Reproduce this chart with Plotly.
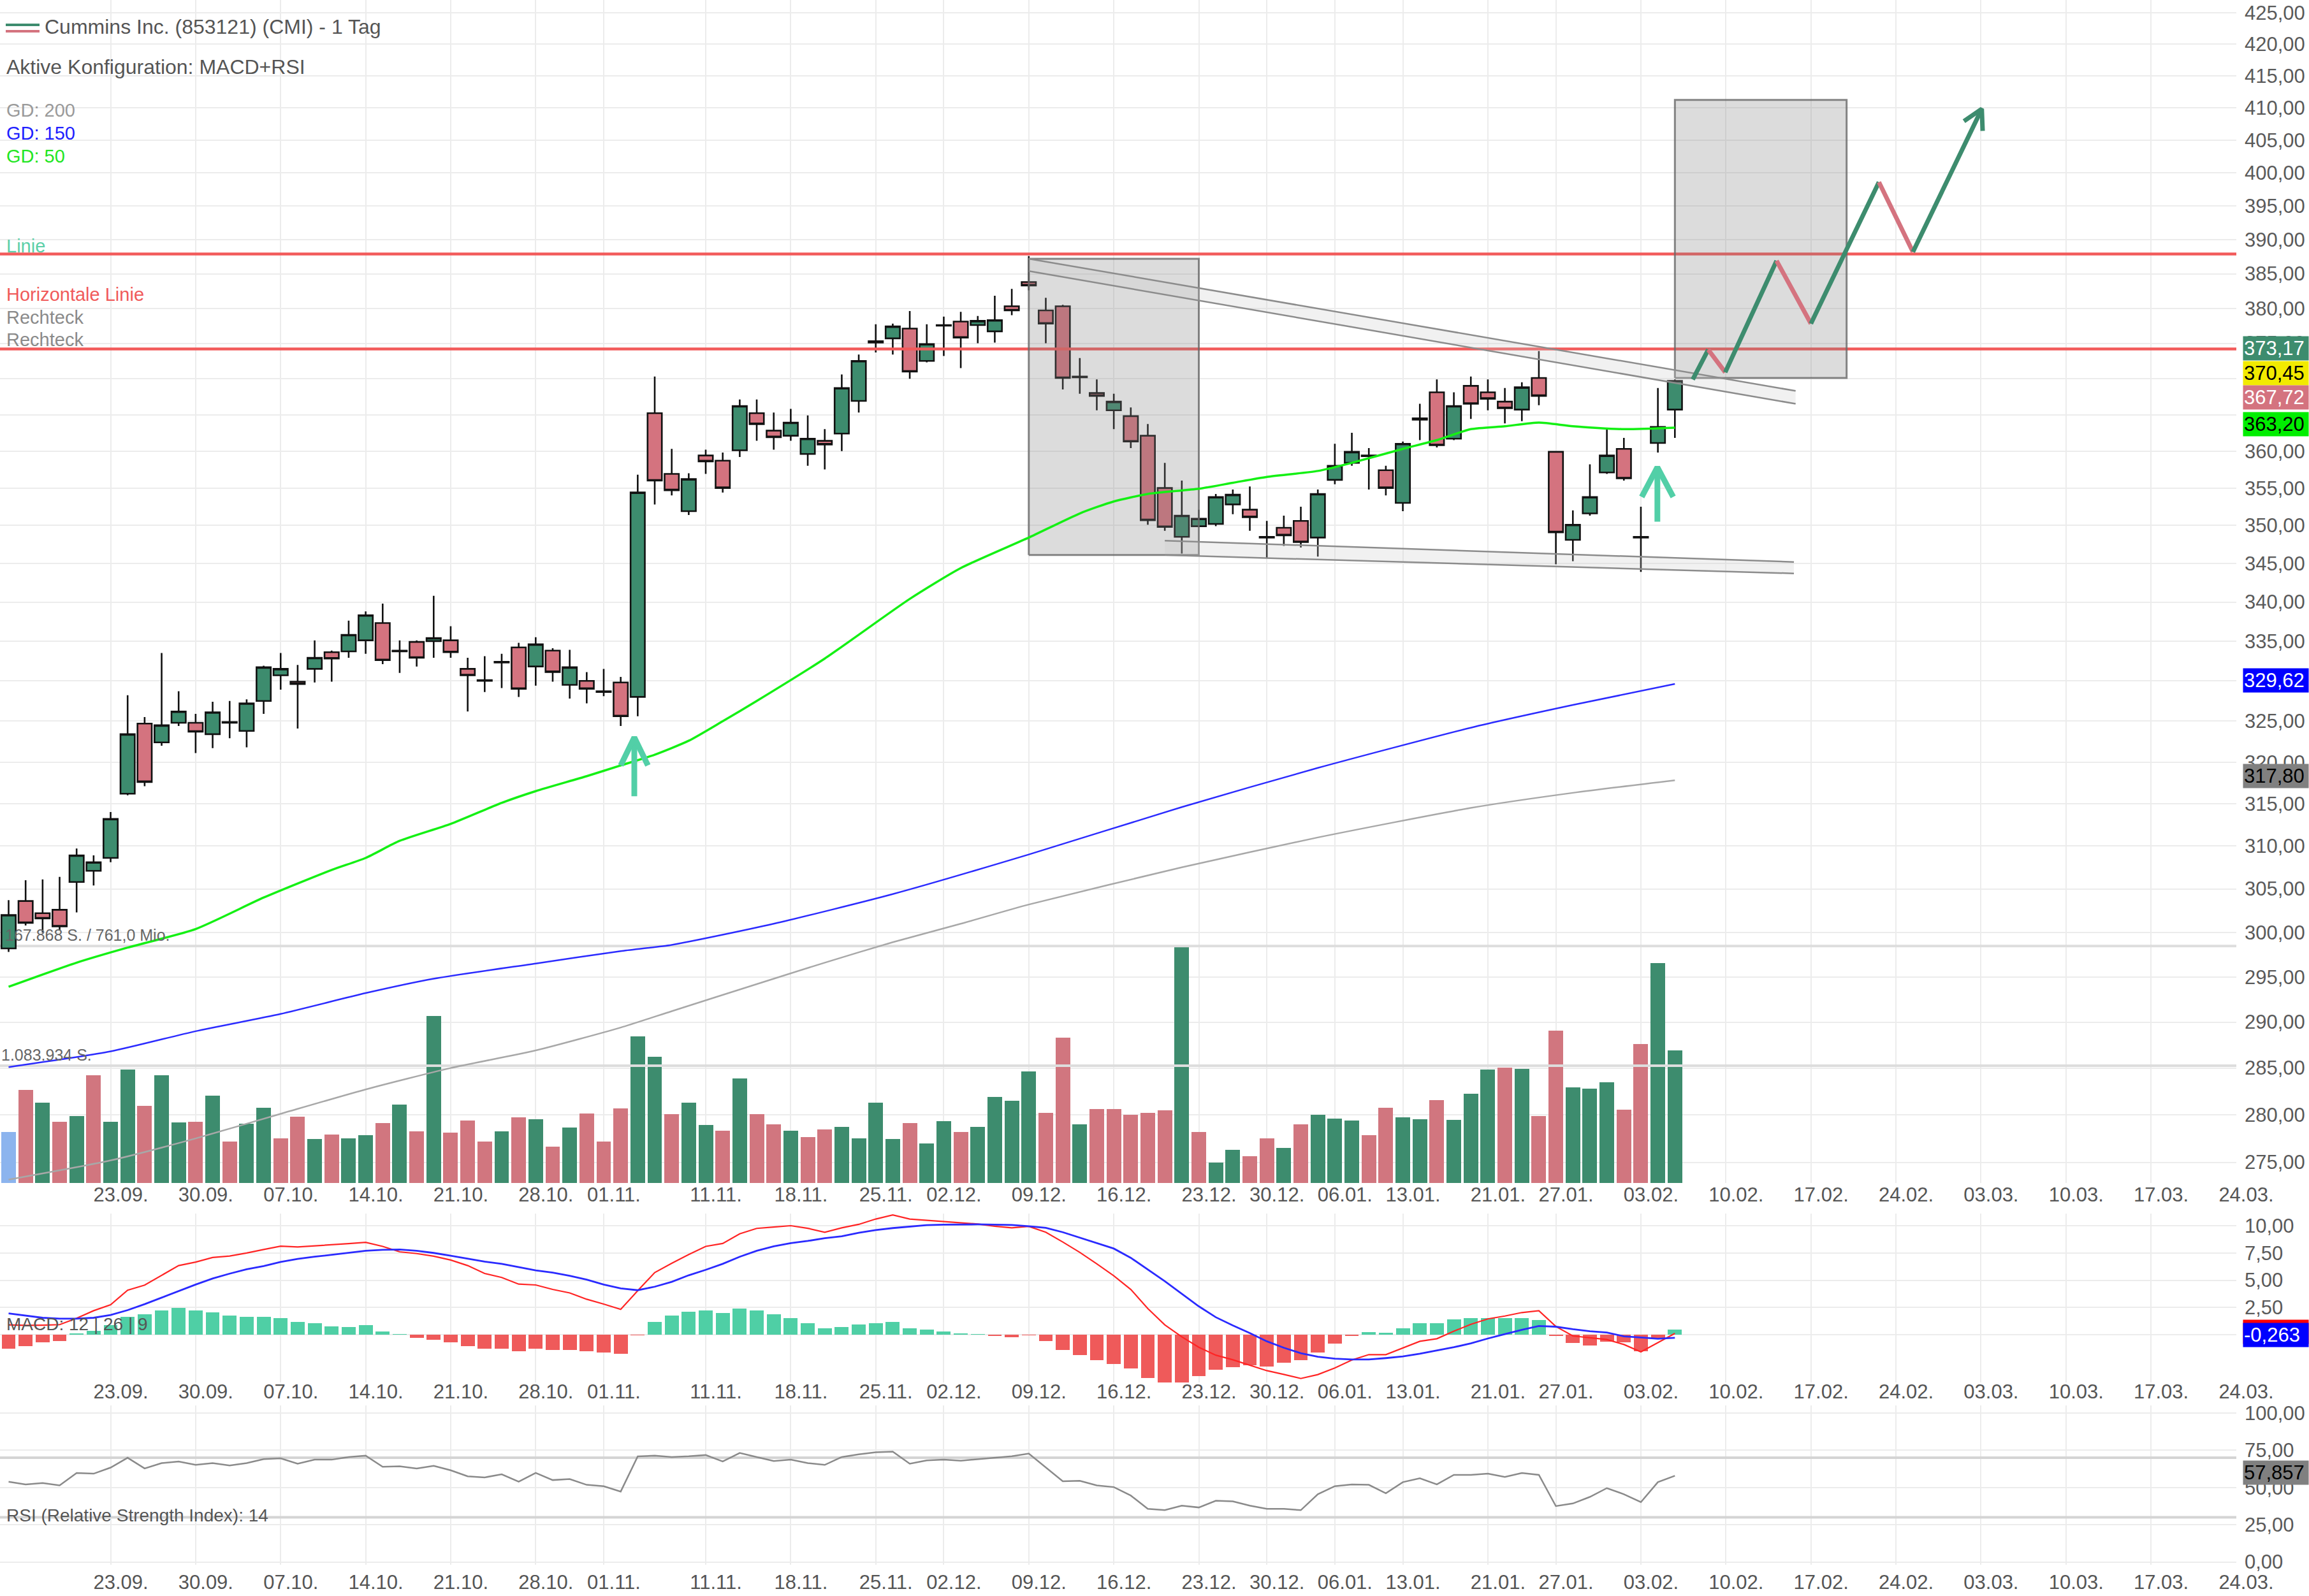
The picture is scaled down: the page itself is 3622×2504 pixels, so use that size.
import math
import plotly.graph_objects as go

# ---------------------------------------------------------------- data
# trading-day index: 0 = 13.09.2024 ... 98 = 05.02.2025
opens = [298.2, 303.6, 302.2, 302.6, 305.8, 307.1, 308.6, 316.2, 324.7, 322.4,
         324.8, 324.8, 323.4, 324.8, 323.8, 327.5, 330.7, 329.9, 331.5, 333.6,
         333.7, 335.1, 337.3, 333.7, 334.9, 335.0, 335.1, 331.5, 330.1, 332.3,
         334.2, 331.8, 333.8, 329.5, 330.0, 328.7, 329.8, 328.0, 365.2, 356.9,
         351.9, 359.4, 358.7, 360.1, 365.2, 362.8, 362.1, 359.6, 361.4, 362.4,
         366.9, 375.1, 375.7, 377.1, 372.5, 377.5, 378.1, 377.6, 376.7, 380.3,
         383.8, 379.7, 380.3, 370.2, 368.0, 365.6, 364.8, 362.1, 355.0, 348.5,
         349.9, 350.2, 352.8, 352.1, 348.4, 349.7, 350.6, 348.4, 356.1, 358.4,
         359.3, 357.4, 353.0, 364.3, 368.1, 361.7, 369.0, 368.1, 366.8, 365.7,
         370.1, 359.9, 348.1, 351.6, 357.1, 360.3, 348.4, 361.1, 365.7]
highs = [303.7, 306.0, 306.1, 306.4, 309.7, 308.9, 314.0, 328.2, 325.5, 333.5,
         328.7, 325.9, 327.4, 327.5, 327.7, 331.9, 333.5, 332.0, 335.1, 333.8,
         337.6, 338.8, 339.8, 335.1, 335.1, 340.8, 336.9, 332.9, 333.1, 333.4,
         334.8, 335.5, 334.1, 333.9, 331.1, 331.5, 330.5, 356.8, 370.3, 360.3,
         357.0, 360.2, 359.8, 367.1, 367.1, 365.3, 365.8, 364.9, 363.0, 370.6,
         373.4, 377.7, 377.8, 379.6, 377.7, 378.8, 379.5, 378.9, 381.8, 382.8,
         387.6, 381.5, 380.5, 372.9, 369.9, 367.9, 366.0, 363.7, 358.4, 356.0,
         352.1, 354.2, 354.8, 355.2, 350.6, 351.3, 352.5, 354.8, 361.0, 362.5,
         360.4, 358.0, 361.3, 366.5, 369.9, 368.1, 370.3, 369.9, 368.7, 369.5,
         373.9, 360.0, 352.0, 358.2, 363.0, 361.8, 352.5, 368.7, 369.9]
lows = [297.8, 300.8, 300.0, 300.3, 302.3, 305.4, 308.1, 316.0, 317.1, 322.0,
        324.4, 321.1, 321.7, 322.9, 321.8, 325.9, 328.9, 324.1, 329.8, 329.9,
        332.9, 333.4, 332.1, 331.0, 331.8, 332.9, 332.9, 326.2, 328.6, 329.1,
        328.0, 329.4, 329.9, 327.8, 327.2, 328.1, 324.4, 325.6, 352.8, 354.0,
        351.4, 356.9, 354.4, 359.2, 361.4, 360.2, 361.4, 358.0, 357.5, 360.0,
        365.3, 373.7, 373.4, 370.0, 372.3, 373.2, 371.5, 375.0, 375.1, 379.0,
        382.6, 375.0, 368.5, 367.9, 365.6, 363.0, 360.4, 350.1, 349.3, 346.3,
        349.8, 349.9, 351.5, 349.3, 345.7, 347.3, 347.1, 345.9, 355.5, 358.0,
        354.8, 354.0, 351.9, 361.5, 360.5, 361.5, 364.4, 365.6, 363.8, 364.1,
        366.3, 344.9, 345.3, 351.3, 356.9, 356.0, 343.9, 359.8, 361.8]
closes = [302.0, 301.1, 301.6, 300.7, 308.9, 308.1, 313.2, 323.4, 317.6, 324.5,
          326.2, 323.7, 326.1, 324.9, 327.2, 331.7, 331.5, 329.6, 332.9, 332.8,
          335.8, 338.3, 332.6, 333.8, 332.9, 335.4, 333.6, 330.7, 330.0, 332.4,
          329.0, 334.6, 331.1, 331.7, 329.0, 328.6, 325.6, 354.4, 356.0, 354.7,
          356.2, 358.6, 355.0, 366.2, 363.7, 361.9, 363.9, 361.7, 360.9, 368.7,
          372.5, 375.3, 377.4, 371.0, 374.9, 377.6, 375.8, 378.2, 378.3, 379.7,
          383.3, 377.8, 370.1, 370.3, 367.6, 366.8, 361.3, 350.7, 349.8, 351.3,
          350.9, 353.8, 354.1, 351.1, 348.5, 348.7, 347.8, 354.2, 358.0, 359.9,
          359.4, 355.0, 361.0, 364.5, 360.8, 366.2, 366.5, 367.2, 365.9, 368.8,
          367.6, 349.1, 350.1, 353.8, 359.4, 356.3, 348.5, 363.3, 369.7]
# volume in thousand shares
volume_k = [469, 860, 742, 566, 619, 996, 566, 1049, 710, 996,
            557, 566, 807, 383, 546, 695, 411, 613, 406, 447,
            411, 444, 553, 722, 477, 1543, 465, 575, 383, 480,
            607, 589, 338, 513, 642, 383, 689, 1355, 1165, 634,
            742, 536, 483, 968, 634, 540, 483, 424, 493, 517,
            412, 742, 405, 556, 365, 570, 471, 517, 797, 762,
            1033, 648, 1341, 542, 683, 683, 629, 650, 670, 2190,
            471, 187, 305, 246, 412, 324, 540, 630, 595, 576,
            444, 693, 605, 589, 766, 585, 825, 1047, 1066, 1056,
            620, 1410, 884, 870, 929, 677, 1282, 2034, 1224]
volume_avg_k = 1083.934

# moving averages (read at sample days)
gd50_x = [0, 4, 7, 11, 15, 19, 21, 23, 26, 29, 31, 34, 36, 38, 40, 42, 44, 48, 53, 56,
          60, 63, 65, 67, 70, 72, 74, 77, 79, 82, 84, 86, 88, 90, 92, 95, 98]
gd50_y = [293.9, 296.6, 298.3, 300.4, 304.0, 307.2, 308.6, 310.6, 312.6, 315.1, 316.5, 318.3,
          319.6, 320.9, 322.6, 325.0, 327.5, 332.8, 340.4, 344.4, 348.4, 351.6, 353.2, 354.2,
          354.9, 355.7, 356.5, 357.3, 358.4, 360.3, 361.5, 363.0, 363.4, 363.9, 363.4, 363.0, 363.2]
gd150_x = [0, 6, 11, 16, 21, 25, 31, 36, 39, 45, 52, 60, 69, 77, 86, 92, 98]
gd150_y = [285.1, 286.8, 289.0, 290.9, 293.2, 294.8, 296.5, 297.9, 298.6, 301.0, 304.4,
           309.0, 314.6, 319.3, 324.2, 327.0, 329.62]
gd200_x = [0, 6, 11, 16, 21, 26, 31, 36, 39, 44, 48, 52, 56, 60, 69, 77, 86, 92, 98]
gd200_y = [273.2, 275.2, 277.5, 280.1, 282.7, 285.0, 286.9, 289.4, 291.2, 294.2, 296.6,
           298.9, 301.0, 303.2, 307.5, 311.0, 314.5, 316.3, 317.8]

macd_line = [0.90, 0.85, 0.87, 0.92, 1.50, 2.20, 2.75, 4.08, 4.55, 5.45,
             6.34, 6.66, 7.08, 7.22, 7.49, 7.81, 8.12, 8.05, 8.15, 8.22,
             8.35, 8.47, 8.10, 7.60, 7.44, 7.20, 6.85, 6.34, 5.61, 5.25,
             4.64, 4.56, 4.15, 3.83, 3.25, 2.81, 2.32, 4.03, 5.70, 6.55,
             7.35, 8.10, 8.37, 9.25, 9.75, 9.88, 10.00, 9.76, 9.40, 9.80,
             10.12, 10.61, 10.98, 10.61, 10.50, 10.40, 10.30, 10.15, 9.95, 9.80,
             9.93, 9.40, 8.50, 7.55, 6.50, 5.40, 4.15, 2.40, 0.90, -0.20,
             -1.15, -1.88, -2.30, -2.80, -3.30, -3.65, -4.02, -3.66, -3.05, -2.32,
             -1.83, -1.83, -1.22, -0.61, -0.37, 0.32, 0.95, 1.45, 1.71, 2.03,
             2.20, 0.75, -0.12, -0.30, -0.45, -0.90, -1.58, -0.73, 0.12]
macd_signal = [1.95, 1.75, 1.55, 1.47, 1.47, 1.55, 1.80, 2.25, 2.80, 3.40,
               4.00, 4.60, 5.15, 5.60, 6.00, 6.30, 6.68, 6.95, 7.15, 7.32,
               7.52, 7.70, 7.78, 7.81, 7.70, 7.50, 7.25, 6.98, 6.70, 6.50,
               6.20, 5.90, 5.69, 5.40, 5.05, 4.60, 4.25, 4.08, 4.40, 4.85,
               5.45, 5.95, 6.50, 7.15, 7.70, 8.10, 8.40, 8.60, 8.85, 9.03,
               9.35, 9.60, 9.78, 9.93, 10.05, 10.10, 10.12, 10.12, 10.10, 10.07,
               9.95, 9.80, 9.40, 8.90, 8.40, 7.90, 7.05, 6.00, 4.90, 3.75,
               2.60, 1.60, 0.85, 0.15, -0.61, -1.20, -1.70, -2.02, -2.20, -2.27,
               -2.27, -2.15, -2.00, -1.75, -1.45, -1.15, -0.80, -0.35, 0.05, 0.45,
               0.80, 0.73, 0.50, 0.32, 0.20, -0.15, -0.26, -0.37, -0.28]
macd_hist = [-1.27, -1.05, -0.68, -0.56, 0.10, 0.37, 0.90, 1.63, 1.88, 2.20,
             2.44, 2.20, 2.07, 1.76, 1.63, 1.63, 1.51, 1.15, 1.05, 0.78,
             0.68, 0.85, 0.32, 0.02, -0.32, -0.49, -0.71, -1.05, -1.29, -1.29,
             -1.54, -1.29, -1.41, -1.41, -1.54, -1.66, -1.75, -0.05, 1.15, 1.76,
             2.12, 2.25, 2.00, 2.37, 2.25, 1.88, 1.51, 1.05, 0.56, 0.68,
             0.93, 1.05, 1.17, 0.56, 0.44, 0.29, 0.12, 0.02, -0.12, -0.24,
             -0.05, -0.56, -1.39, -1.88, -2.32, -2.68, -3.12, -3.97, -4.50, -4.50,
             -3.83, -3.24, -2.97, -2.80, -2.93, -2.56, -2.32, -1.63, -0.80, -0.12,
             0.24, 0.20, 0.56, 1.03, 1.05, 1.41, 1.51, 1.51, 1.51, 1.51,
             1.34, -0.10, -0.75, -1.00, -0.66, -0.72, -1.54, -0.37, 0.49]
rsi = [53.9, 52.1, 53.0, 51.4, 59.8, 59.3, 63.4, 70.0, 62.8, 66.4,
       67.5, 65.2, 66.4, 64.8, 66.4, 69.1, 69.6, 66.0, 68.7, 68.7,
       70.5, 71.4, 63.9, 64.3, 62.8, 64.6, 61.6, 57.5, 56.8, 58.9,
       53.9, 59.8, 55.0, 55.7, 51.8, 50.9, 47.3, 70.9, 71.4, 70.5,
       71.0, 71.8, 67.5, 73.2, 70.5, 67.8, 68.7, 66.4, 65.2, 70.5,
       72.3, 73.7, 74.1, 66.0, 68.2, 68.7, 68.0, 69.0, 69.8, 71.0,
       72.8, 63.4, 54.2, 54.5, 51.4, 50.3, 44.6, 35.7, 34.8, 37.8,
       36.6, 41.1, 40.7, 37.8, 35.7, 35.7, 34.8, 45.5, 50.9, 52.1,
       51.8, 46.1, 53.6, 56.2, 52.1, 58.5, 58.5, 59.3, 57.1, 59.8,
       58.5, 37.5, 39.3, 43.7, 49.6, 45.5, 40.2, 53.6, 57.857]
rsi_levels = [70, 30]

tick_idx = [6, 11, 16, 21, 26, 31, 35, 41, 46, 51, 55, 60, 65, 70, 74, 78, 82, 87, 91, 96,
            101, 106, 111, 116, 121, 126, 131]
tick_txt = ["23.09.", "30.09.", "07.10.", "14.10.", "21.10.", "28.10.", "01.11.", "11.11.",
            "18.11.", "25.11.", "02.12.", "09.12.", "16.12.", "23.12.", "30.12.", "06.01.",
            "13.01.", "21.01.", "27.01.", "03.02.", "10.02.", "17.02.", "24.02.", "03.03.",
            "10.03.", "17.03.", "24.03."]
price_ticks = list(range(275, 426, 5))
price_ticks_hidden = [330, 365, 370]      # covered by value boxes in the original
macd_ticks = [0, 2.5, 5, 7.5, 10]
macd_ticks_hidden = [0]
rsi_ticks = [0, 25, 50, 75, 100]

# drawings (day index, price)
hline_levels = [387.9, 374.2]
rect1_x, rect1_y = [60, 70], [346.1, 387.2]
rect2_x, rect2_y = [98, 108.1], [370.1, 411.2]
band_up_x, band_up_top, band_up_bot = [60, 105.1], [387.2, 368.3], [385.4, 366.5]
band_lo_x, band_lo_top, band_lo_bot = [68, 105.0], [348.0, 345.2], [346.1, 343.7]
zig_x = [99.05, 99.96, 100.96, 103.98, 106.0, 110.0, 112.0, 116.05]
zig_y = [369.9, 374.1, 370.9, 386.9, 377.8, 398.6, 388.2, 409.8]
zig_head_x, zig_head_y = [115.0, 116.1], [407.9, 406.4]
arrow1 = dict(x=36.8, tail=315.9, tip=323.0, wx=[36.0, 37.6], wy=319.6)
arrow2 = dict(x=96.97, tail=350.5, tip=357.8, wx=[96.05, 97.9], wy=353.8)

price_boxes = [("373,17", 373.17, "#3d8c6e", "white", 12),
               ("370,45", 370.45, "#f2ea00", "black", 4),
               ("367,72", 367.72, "#d4737f", "white", -4),
               ("363,20", 363.20, "#00ee00", "black", 6),
               ("329,62", 329.62, "#0000ff", "white", 5),
               ("317,80", 317.80, "#808080", "black", 7)]
macd_box_signal, macd_box_line = -0.263, 0.12
rsi_box = 57.857

# ---------------------------------------------------------------- style / layout
W, H = 3622, 2504
FONT = "Liberation Sans, Arial, sans-serif"
GREEN, RED = "#3d8c6e", "#d4737f"
GRID = "#ececec"
PLOT_R = 3508 / W
X_RANGE = [-0.506, 131.02]

n = len(closes)
idx = list(range(n))

fig = go.Figure()

# volume (base axis y, drawn behind price)
vol_colors = ["#8cb4ee"] + [GREEN if closes[i] >= closes[i - 1] else "#d1767f" for i in range(1, n)]
fig.add_trace(go.Bar(x=idx, y=volume_k, width=0.86, marker=dict(color=vol_colors, line=dict(width=0)),
                     xaxis="x", yaxis="y"))
for v in [max(volume_k), volume_avg_k]:
    fig.add_trace(go.Scatter(x=[-1, 132], y=[v, v], mode="lines",
                             line=dict(color="#dddddd", width=4), xaxis="x", yaxis="y"))

# candles
fig.add_trace(go.Candlestick(x=idx, open=opens, high=highs, low=lows, close=closes,
                             increasing=dict(fillcolor=GREEN, line=dict(color="#111111", width=2.6)),
                             decreasing=dict(fillcolor=RED, line=dict(color="#111111", width=2.6)),
                             whiskerwidth=0, xaxis="x", yaxis="y2"))

def sc(x, y, **kw):
    fig.add_trace(go.Scatter(x=x, y=y, xaxis="x", yaxis="y2", **kw))

# horizontal lines
for lv in hline_levels:
    sc([-1, 132], [lv, lv], mode="lines", line=dict(color="#f25a5a", width=4.5))

# rectangles
for rx, ry in [(rect1_x, rect1_y), (rect2_x, rect2_y)]:
    sc([rx[0], rx[1], rx[1], rx[0], rx[0]], [ry[0], ry[0], ry[1], ry[1], ry[0]],
       mode="lines", fill="toself", fillcolor="rgba(128,128,128,0.28)",
       line=dict(color="rgba(105,105,105,0.8)", width=3))

# moving averages
sc(gd200_x, gd200_y, mode="lines", line=dict(color="#a8a8a8", width=2.5, shape="spline", smoothing=0.6))
sc(gd150_x, gd150_y, mode="lines", line=dict(color="#2b2bff", width=2.5, shape="spline", smoothing=0.6))
sc(gd50_x, gd50_y, mode="lines", line=dict(color="#14f014", width=3.5, shape="spline", smoothing=0.6))

# channel bands
for bx, bt, bb in [(band_up_x, band_up_top, band_up_bot), (band_lo_x, band_lo_top, band_lo_bot)]:
    sc([bx[0], bx[1], bx[1], bx[0], bx[0]], [bt[0], bt[1], bb[1], bb[0], bt[0]], mode="lines",
       fill="toself", fillcolor="rgba(200,200,200,0.25)", line=dict(width=0))
    sc(bx, bt, mode="lines", line=dict(color="#8c8c8c", width=2.5))
    sc(bx, bb, mode="lines", line=dict(color="#8c8c8c", width=2.5))

# zigzag projection
for k in range(len(zig_x) - 1):
    col = GREEN if zig_y[k + 1] > zig_y[k] else RED
    sc(zig_x[k:k + 2], zig_y[k:k + 2], mode="lines", line=dict(color=col, width=7))
sc([zig_head_x[0], zig_x[-1], zig_head_x[1]], [zig_head_y[0], zig_y[-1], zig_head_y[1]],
   mode="lines", line=dict(color=GREEN, width=7))

# teal arrows
for a in [arrow1, arrow2]:
    sc([a["x"], a["x"], None, a["wx"][0], a["x"], a["wx"][1]],
       [a["tail"], a["tip"], None, a["wy"], a["tip"], a["wy"]],
       mode="lines", line=dict(color="#52cfa7", width=9))

# MACD panel
fig.add_trace(go.Bar(x=idx, y=macd_hist, width=0.82,
                     marker=dict(color=["#4fcfa5" if v >= 0 else "#ef5a5a" for v in macd_hist], line=dict(width=0)),
                     xaxis="x2", yaxis="y3"))
fig.add_trace(go.Scatter(x=idx, y=macd_line, mode="lines", line=dict(color="#ff2424", width=2.2),
                         xaxis="x2", yaxis="y3"))
fig.add_trace(go.Scatter(x=idx, y=macd_signal, mode="lines", line=dict(color="#2a2aff", width=2.8),
                         xaxis="x2", yaxis="y3"))

# RSI panel
for lv in rsi_levels:
    fig.add_trace(go.Scatter(x=[-1, 132], y=[lv, lv], mode="lines", line=dict(color="#d4d4d4", width=4),
                             xaxis="x3", yaxis="y4"))
fig.add_trace(go.Scatter(x=idx, y=rsi, mode="lines", line=dict(color="#8a8a8a", width=2.5),
                         xaxis="x3", yaxis="y4"))

# ---------------------------------------------------------------- axes
tickfont = dict(family=FONT, size=31, color="#555555")
xcommon = dict(domain=[0, PLOT_R], range=X_RANGE, tickmode="array", tickvals=tick_idx, ticktext=tick_txt,
               showgrid=True, gridcolor=GRID, gridwidth=2, zeroline=False, showline=False, ticks="",
               tickfont=tickfont, ticklabelshift=16, tickangle=0, fixedrange=True, automargin=False,
               rangeslider=dict(visible=False))

PRICE_BOTTOM_PX = 1856
price_top = math.log10(425) + 20 / 9540
price_bot = math.log10(425) - (PRICE_BOTTOM_PX - 20) / 9540

ycommon = dict(side="right", showgrid=True, gridcolor=GRID, gridwidth=2, zeroline=False, showline=False,
               ticks="", tickfont=dict(family=FONT, size=31, color="#5a5a5a"), ticklabelstandoff=12,
               fixedrange=True, automargin=False)

def fmt2(v):
    return f"{v:.2f}".replace(".", ",")

fig.update_layout(
    width=W, height=H, margin=dict(l=0, r=0, t=0, b=0, pad=0, autoexpand=False),
    paper_bgcolor="white", plot_bgcolor="white", showlegend=False, hovermode=False,
    bargap=0, boxgap=0.16, boxgroupgap=0, font=dict(family=FONT),
    xaxis=dict(anchor="y", ticklabelstandoff=-3, **xcommon),
    xaxis2=dict(anchor="y3", matches="x", ticklabelstandoff=-7, **xcommon),
    xaxis3=dict(anchor="y4", matches="x", ticklabelstandoff=6, **xcommon),
    yaxis=dict(domain=[1 - PRICE_BOTTOM_PX / H, 1], range=[0, PRICE_BOTTOM_PX * 5.891], visible=False,
               fixedrange=True),
    yaxis2=dict(overlaying="y", anchor="x", type="log", range=[price_bot, price_top], tickmode="array",
                tickvals=price_ticks,
                ticktext=["" if v in price_ticks_hidden else f"{v},00" for v in price_ticks], **ycommon),
    yaxis3=dict(anchor="x2", domain=[1 - 2169 / H, 1 - 1904 / H], range=[-4.386, 11.111], tickmode="array",
                tickvals=macd_ticks,
                ticktext=["" if v in macd_ticks_hidden else fmt2(v) for v in macd_ticks], **ycommon),
    yaxis4=dict(anchor="x3", domain=[1 - 2455 / H, 1 - 2204.5 / H], range=[-1.88, 105.35], tickmode="array",
                tickvals=rsi_ticks, ticktext=[fmt2(v) for v in rsi_ticks], **ycommon),
)

# ---------------------------------------------------------------- texts
ann = []

def txt(text, px, py, size, color):
    ann.append(dict(text=text, x=px / W, y=1 - py / H, xref="paper", yref="paper", xanchor="left",
                    yanchor="middle", showarrow=False, font=dict(family=FONT, size=size, color=color)))

txt("Cummins Inc. (853121) (CMI) - 1 Tag", 68, 42, 32, "#555555")
txt("Aktive Konfiguration: MACD+RSI", 8, 105, 32, "#555555")
txt("GD: 200", 8, 173, 29, "#9a9a9a")
txt("GD: 150", 8, 209, 29, "#2020ff")
txt("GD: 50", 8, 245, 29, "#22e622")
txt("Linie", 8, 386, 29, "#5ccfa8")
txt("Horizontale Linie", 8, 462, 29, "#f05a5a")
txt("Rechteck", 8, 498, 29, "#8a8a8a")
txt("Rechteck", 8, 533, 29, "#8a8a8a")
txt("MACD: 12 | 26 | 9", 8, 2077, 28, "#555555")
txt("RSI (Relative Strength Index): 14", 8, 2377, 28, "#555555")

ann.append(dict(text="167.868 S. / 761,0 Mio.", x=6 / W, xref="paper", xanchor="left", y=max(volume_k),
                yref="y", yanchor="bottom", yshift=1, showarrow=False,
                font=dict(family=FONT, size=25, color="#666666")))
ann.append(dict(text="1.083.934 S.", x=0, xref="paper", xanchor="left", y=volume_avg_k,
                yref="y", yanchor="bottom", yshift=1, showarrow=False,
                font=dict(family=FONT, size=25, color="#666666")))

def box(text, yref, y, bg, fg, yshift):
    ann.append(dict(text=text, x=3518 / W, xref="paper", xanchor="left", y=y, yref=yref, yanchor="middle",
                    yshift=yshift, showarrow=False, bgcolor=bg, align="left", width=100, borderpad=1,
                    font=dict(family=FONT, size=31, color=fg)))

for t, v, bg, fg, ys in price_boxes:
    box(t, "y2", math.log10(v), bg, fg, ys)
box(" ", "y3", macd_box_line, "#ff0000", "white", 2)
box("-0,263", "y3", macd_box_signal, "#0000ff", "white", 4)
box("57,857", "y4", rsi_box, "#808080", "black", 5)

fig.update_layout(annotations=ann)

# legend icon next to title
fig.add_shape(type="line", xref="paper", yref="paper", x0=9 / W, x1=62 / W, y0=1 - 39 / H, y1=1 - 39 / H,
              line=dict(color=GREEN, width=4))
fig.add_shape(type="line", xref="paper", yref="paper", x0=9 / W, x1=62 / W, y0=1 - 49 / H, y1=1 - 49 / H,
              line=dict(color=RED, width=4))

fig.write_html("out.html", config={"displayModeBar": False})
